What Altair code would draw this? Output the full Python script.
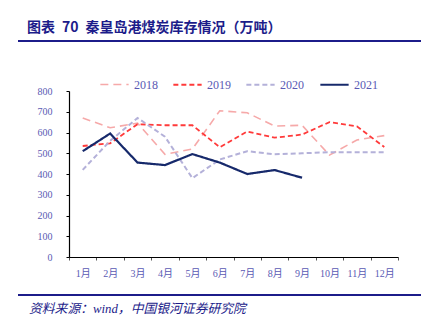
import altair as alt
import pandas as pd

months = ["1月", "2月", "3月", "4月", "5月", "6月", "7月", "8月", "9月", "10月", "11月", "12月"]
years = ["2018", "2019", "2020", "2021"]
y2018 = [670, 623, 645, 495, 520, 705, 695, 631, 635, 491, 564, 585]
y2019 = [535, 548, 640, 635, 635, 529, 605, 575, 590, 650, 630, 530]
y2020 = [420, 560, 670, 580, 380, 470, 510, 495, 500, 505, 505, 505]
y2021 = [510, 595, 455, 443, 496, 455, 400, 419, 382]
y_ticks = [0, 100, 200, 300, 400, 500, 600, 700, 800]

title_text = "图表\u200270\u2002秦皇岛港煤炭库存情况（万吨）"
source_text = "资料来源：wind，中国银河证券研究院"

rows = []
for yr, vals in zip(years, [y2018, y2019, y2020, y2021]):
    for m, v in zip(months, vals):
        rows.append({"month": m, "year": yr, "value": v})
df = pd.DataFrame(rows)

label_color = "#5a5ab4"
navy = "#1c1c8a"
serif = "Liberation Serif, Noto Sans CJK SC"

colors = ["#f6a9a9", "#ff3a3a", "#b4b1d9", "#16296b"]
dashes = [[8, 5], [5, 3], [5, 3], [1, 0]]
widths = [1.6, 2.2, 1.8, 1.8]

legend_cfg = alt.Legend(
    title=None, orient="none", legendX=30, legendY=-22, direction="horizontal",
    columns=4, symbolType="stroke", symbolSize=800, symbolStrokeWidth=2,
    labelFont=serif, labelFontSize=12, labelColor=label_color,
    columnPadding=11, labelOffset=4, padding=0,
)

lines = alt.Chart(df).mark_line().encode(
    x=alt.X("month:O", sort=months, bandPosition=0.5,
            scale=alt.Scale(type="band", paddingInner=0, paddingOuter=0),
            axis=alt.Axis(title=None, labelAngle=0, tickBand="extent", tickSize=3,
                          tickColor="#555555", domainColor="#000000", domainWidth=1.2,
                          labelFont=serif, labelFontSize=10, labelColor=label_color,
                          labelPadding=8, grid=False)),
    y=alt.Y("value:Q", scale=alt.Scale(domain=[0, 800], nice=False),
            axis=alt.Axis(title=None, values=y_ticks, tickSize=3, tickColor="#000000",
                          domainColor="#000000", domainWidth=1.2,
                          labelFont=serif, labelFontSize=10, labelColor=label_color,
                          labelPadding=14, grid=False)),
    color=alt.Color("year:N", scale=alt.Scale(domain=years, range=colors), legend=legend_cfg),
    strokeDash=alt.StrokeDash("year:N", scale=alt.Scale(domain=years, range=dashes), legend=legend_cfg),
    strokeWidth=alt.StrokeWidth("year:N", scale=alt.Scale(domain=years, range=widths), legend=None),
    order=alt.Order("mi:Q"),
).transform_calculate(mi="indexof(" + str(months) + ", datum.month)")

title_df = pd.DataFrame({"t": [title_text]})
src_df = pd.DataFrame({"t": [source_text]})

top_rule = alt.Chart(title_df).mark_rule(color=navy, strokeWidth=2.2).encode(
    x=alt.value(-51), x2=alt.value(352), y=alt.value(-50))
bot_rule = alt.Chart(src_df).mark_rule(color=navy, strokeWidth=2.2).encode(
    x=alt.value(-51), x2=alt.value(352), y=alt.value(204))
title = alt.Chart(title_df).mark_text(
    align="left", baseline="middle", font="Noto Sans CJK SC", fontSize=14,
    fontWeight="bold", color=navy).encode(
    x=alt.value(-42), y=alt.value(-63), text="t:N")
source = alt.Chart(src_df).mark_text(
    align="left", baseline="middle", font="Liberation Serif, Noto Sans CJK SC", fontSize=12.8,
    fontStyle="italic", color=navy).encode(
    x=alt.value(-40), y=alt.value(218), text="t:N")

chart = alt.layer(lines, top_rule, bot_rule, title, source).properties(
    width=329, height=166,
    autosize=alt.AutoSizeParams(type="none"),
    padding={"left": 69, "top": 91, "right": 28, "bottom": 75},
).configure_view(stroke=None)

chart.save("out.html", embed_options={"renderer": "svg", "actions": False})
